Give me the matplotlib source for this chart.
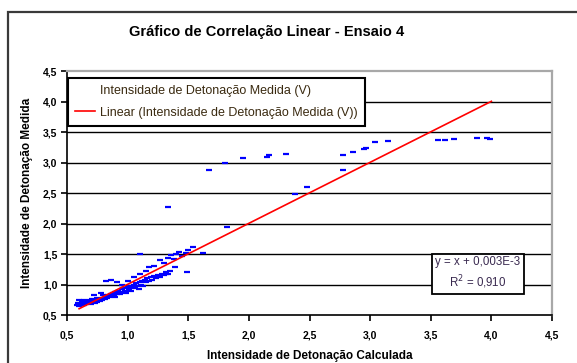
import matplotlib
matplotlib.use('Agg')
import matplotlib.pyplot as plt
from matplotlib.patches import Rectangle
import numpy as np

plt.rcParams['font.family'] = ['Liberation Sans', 'DejaVu Sans']

calc = [0.58, 0.59, 0.60, 0.60, 0.61, 0.62, 0.62, 0.63, 0.64, 0.64, 0.65, 0.66, 0.67, 0.68,
        0.69, 0.70, 0.70, 0.71, 0.72, 0.73, 0.74, 0.75, 0.75, 0.76, 0.77, 0.78, 0.79, 0.80,
        0.80, 0.81, 0.82, 0.83, 0.84, 0.85, 0.86, 0.87, 0.88, 0.89, 0.90, 0.90, 0.91, 0.92,
        0.93, 0.94, 0.95, 0.96, 0.97, 0.98, 0.99, 1.00, 1.01, 1.02, 1.03, 1.04, 1.05, 1.06,
        1.07, 1.08, 1.09, 1.10, 1.11, 1.12, 1.13, 1.14, 1.15, 1.16, 1.18, 1.19, 1.20, 1.22,
        1.23, 1.25, 1.27, 1.28, 1.30, 1.32, 1.33, 1.35,
        0.72, 0.78, 0.82, 0.86, 0.91, 0.95, 1.00, 1.05, 1.10, 1.15, 1.18, 1.22, 1.27, 1.30,
        1.33, 1.36, 1.40, 1.38, 1.45, 1.42, 1.48, 1.50, 1.54, 1.10, 1.62, 1.49, 1.39, 1.32,
        1.33, 1.67, 1.80, 1.82, 1.95, 2.15, 2.17, 2.31, 2.38, 2.48, 2.78, 2.78, 2.86, 2.95,
        2.97, 3.04, 3.15, 3.56, 3.62, 3.69, 3.88, 3.96, 3.99]
medida = [0.66, 0.70, 0.64, 0.74, 0.68, 0.66, 0.72, 0.69, 0.67, 0.75, 0.70, 0.68, 0.72, 0.70,
          0.74, 0.71, 0.68, 0.76, 0.72, 0.70, 0.74, 0.78, 0.72, 0.75, 0.73, 0.77, 0.74, 0.78,
          0.82, 0.76, 0.80, 0.78, 0.82, 0.79, 0.84, 0.81, 0.86, 0.83, 0.88, 0.80, 0.85, 0.90,
          0.87, 0.84, 0.92, 0.88, 0.94, 0.90, 0.86, 0.96, 0.92, 0.98, 0.90, 0.96, 1.00, 0.94,
          1.02, 0.98, 0.92, 1.04, 1.00, 1.06, 0.98, 1.08, 1.04, 1.10, 1.06, 1.12, 1.08, 1.14,
          1.10, 1.16, 1.12, 1.18, 1.15, 1.20, 1.17, 1.22,
          0.82, 0.86, 1.06, 1.08, 1.04, 1.00, 1.06, 1.12, 1.18, 1.22, 1.28, 1.30, 1.40, 1.36,
          1.44, 1.48, 1.50, 1.42, 1.46, 1.54, 1.52, 1.56, 1.61, 1.50, 1.52, 1.20, 1.29, 1.17,
          2.27, 2.88, 2.99, 1.94, 3.07, 3.09, 3.12, 3.14, 2.48, 2.60, 2.88, 3.12, 3.17, 3.22,
          3.23, 3.34, 3.35, 3.37, 3.37, 3.39, 3.40, 3.40, 3.39]

trend_x = [0.6, 4.0]
slope, intercept = 1.0, 0.003
r2 = 0.910

ticks = [0.5, 1.0, 1.5, 2.0, 2.5, 3.0, 3.5, 4.0, 4.5]
tick_labels = ['0,5', '1,0', '1,5', '2,0', '2,5', '3,0', '3,5', '4,0', '4,5']

fig = plt.figure(figsize=(5.77, 3.63), dpi=100)
ax = fig.add_axes([0.1161, 0.1322, 0.8406, 0.6722])

# outer chart frame
fig.patches.append(Rectangle((8/577, -0.1), 1.2, 1.0 - 12/363 + 0.1,
                             transform=fig.transFigure, fill=False,
                             edgecolor='#3a3a3a', lw=1.6))

for yv in ticks[1:-1]:
    ax.axhline(yv, color='black', lw=1.0, zorder=1)

ax.plot(calc, medida, linestyle='none', marker='_', color='#0000ff',
        markersize=4, mew=1.6, zorder=3,
        label='Intensidade de Detonação Medida (V)')
tx = np.array(trend_x)
ax.plot(tx, slope * tx + intercept, color='#ff0000', lw=1.2, zorder=4,
        label='Linear (Intensidade de Detonação Medida (V))')

ax.set_xlim(0.5, 4.5)
ax.set_ylim(0.5, 4.5)
ax.set_xticks(ticks)
ax.set_yticks(ticks)
ax.set_xticklabels(tick_labels, fontsize=7.5, fontweight='bold')
ax.set_yticklabels(tick_labels, fontsize=7.5, fontweight='bold')
ax.tick_params(direction='out', length=4, width=1.2)
ax.tick_params(axis='x', pad=7)
ax.tick_params(axis='y', pad=3)

for s in ['left', 'bottom']:
    ax.spines[s].set_color('black')
    ax.spines[s].set_linewidth(1.2)
for s in ['top', 'right']:
    ax.spines[s].set_color('#a8a8a8')
    ax.spines[s].set_linewidth(1.6)

fig.text(267/577, 1 - 32/363, 'Gráfico de Correlação Linear - Ensaio 4', fontsize=10.5,
         fontweight='bold', ha='center', va='center')
ax.set_xlabel('Intensidade de Detonação Calculada', fontsize=8.5, fontweight='bold',
              labelpad=7)
ax.set_ylabel('Intensidade de Detonação Medida', fontsize=8.5, fontweight='bold',
              labelpad=7)

leg = ax.legend(loc='upper left', bbox_to_anchor=(0.002, 0.972), fontsize=9,
                frameon=True, fancybox=False, borderpad=0.55, labelspacing=0.8,
                handlelength=1.6, handletextpad=0.45, borderaxespad=0)
leg.get_frame().set_edgecolor('black')
leg.get_frame().set_linewidth(1.5)
leg.get_frame().set_alpha(1)
leg.legend_handles[0].set_visible(False)
for t in leg.get_texts():
    t.set_color('#3a2a10')

ax.text(0.847, 0.17, 'y = x + 0,003E-3\nR$^2$ = 0,910', transform=ax.transAxes,
        ha='center', va='center', fontsize=8.3, linespacing=1.4, color='#3a2a50',
        bbox=dict(boxstyle='square,pad=0.3', fc='white', ec='black', lw=1.3),
        zorder=5)

fig.savefig('out.png', dpi=100)
